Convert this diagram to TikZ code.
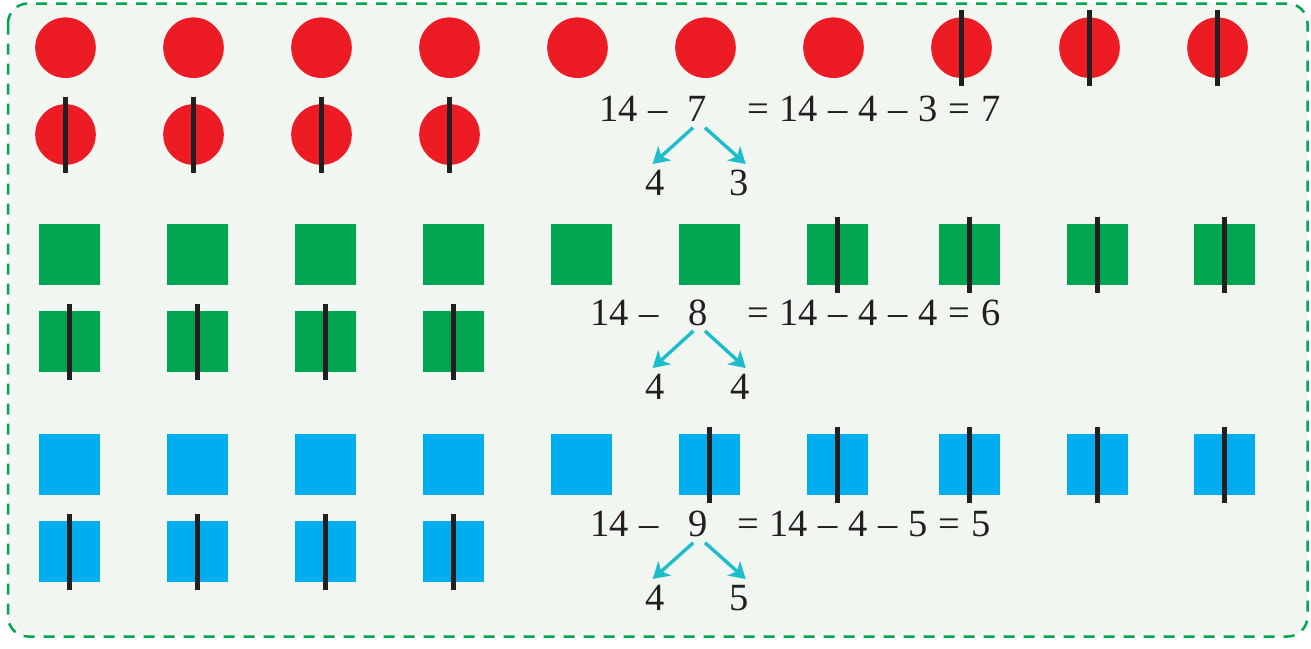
\documentclass[tikz,border=0pt]{standalone}
\usepackage{fontspec}
\setmainfont{Liberation Serif}
\usetikzlibrary{arrows.meta}
\definecolor{bgc}{HTML}{F1F6F0}
\definecolor{framec}{HTML}{00A651}
\definecolor{redc}{HTML}{ED1C24}
\definecolor{greenc}{HTML}{00A54F}
\definecolor{bluec}{HTML}{00AEEF}
\definecolor{inkc}{HTML}{231F20}
\definecolor{cyanc}{HTML}{1EBDCB}
\newcommand\eqfnt{\fontsize{38.5}{40}\selectfont\spaceskip=0.278em\relax}
\begin{document}
\begin{tikzpicture}[x=1pt,y=-1pt,
  frame/.style={draw=framec, line width=2.5pt, dash pattern=on 11pt off 9pt, rounded corners=20pt, fill=bgc},
  ball/.style={circle, fill=redc, inner sep=0pt, minimum size=60.6pt},
  gsq/.style={rectangle, fill=greenc, inner sep=0pt, minimum size=61pt},
  bsq/.style={rectangle, fill=bluec, inner sep=0pt, minimum size=61pt},
  bar/.style={draw=inkc, line width=5.5pt},
  eq/.style={font=\eqfnt, inner sep=0pt, text=inkc},
  conn/.style={draw=cyanc, line width=3.4pt, -{Stealth[length=16pt,width=19pt,inset=4.5pt]}}
]
\useasboundingbox (0,0) rectangle (1311,648);
\fill[white] (0,0) rectangle (1311,648);
\draw[frame] (8,3.5) rectangle (1307.5,636.5);

% red circles
\foreach \i in {1,...,10} {
  \node[ball] (ra\i) at ({65.5+128*(\i-1)},47.7) {};
}
\foreach \i in {1,...,4} {
  \node[ball] (rb\i) at ({65.5+128*(\i-1)},134.5) {};
}
\foreach \n in {ra8,ra9,ra10,rb1,rb2,rb3,rb4} {
  \draw[bar] ([yshift=38pt]\n.center) -- ([yshift=-38pt]\n.center);
}

% green and blue squares
\foreach \x [count=\i] in {69.5,197.5,325.5,453.5,581.5,709.5,837.5,969.5,1097.5,1224.5} {
  \node[gsq] (ga\i) at (\x,254.5) {};
  \node[bsq] (ba\i) at (\x,464.5) {};
}
\foreach \x [count=\i] in {69.5,197.5,325.5,453.5} {
  \node[gsq] (gb\i) at (\x,341.5) {};
  \node[bsq] (bb\i) at (\x,551.5) {};
}
\foreach \n in {ga7,ga8,ga9,ga10,gb1,gb2,gb3,gb4,ba6,ba7,ba8,ba9,ba10,bb1,bb2,bb3,bb4} {
  \draw[bar] ([yshift=38pt]\n.center) -- ([yshift=-38pt]\n.center);
}

% equation 1
\node[eq,anchor=base west] (p1) at (599,121.7) {14 –};
\node[eq,anchor=base] (m1) at (697.5,121.7) {7};
\node[eq,anchor=base west] (q1) at (747,121.7) {= 14 – 4 – 3 = 7};
\node[eq,anchor=base] (l1) at (655.5,195) {4};
\node[eq,anchor=base] (r1) at (739,195) {3};
\draw[conn] ([xshift=-4.5pt,yshift=-6pt]m1.base) -- ([xshift=-2.8pt,yshift=31pt]l1.base);
\draw[conn] ([xshift=7.5pt,yshift=-6pt]m1.base) -- ([xshift=6.7pt,yshift=31pt]r1.base);

% equation 2
\node[eq,anchor=base west] (p2) at (590,325) {14 –};
\node[eq,anchor=base] (m2) at (698.5,325) {8};
\node[eq,anchor=base west] (q2) at (747,325) {= 14 – 4 – 4 = 6};
\node[eq,anchor=base] (l2) at (655.5,399) {4};
\node[eq,anchor=base] (r2) at (740,399) {4};
\draw[conn] ([xshift=-5.2pt,yshift=-6pt]m2.base) -- ([xshift=-2.8pt,yshift=31pt]l2.base);
\draw[conn] ([xshift=6.5pt,yshift=-6pt]m2.base) -- ([xshift=5.7pt,yshift=31pt]r2.base);

% equation 3
\node[eq,anchor=base west] (p3) at (590,536.7) {14 –};
\node[eq,anchor=base] (m3) at (698,536.7) {9};
\node[eq,anchor=base west] (q3) at (737,536.7) {= 14 – 4 – 5 = 5};
\node[eq,anchor=base] (l3) at (655.5,610) {4};
\node[eq,anchor=base] (r3) at (739.5,610) {5};
\draw[conn] ([xshift=-4.7pt,yshift=-6pt]m3.base) -- ([xshift=-2.8pt,yshift=31pt]l3.base);
\draw[conn] ([xshift=7pt,yshift=-6pt]m3.base) -- ([xshift=6.2pt,yshift=31pt]r3.base);
\end{tikzpicture}
\end{document}
